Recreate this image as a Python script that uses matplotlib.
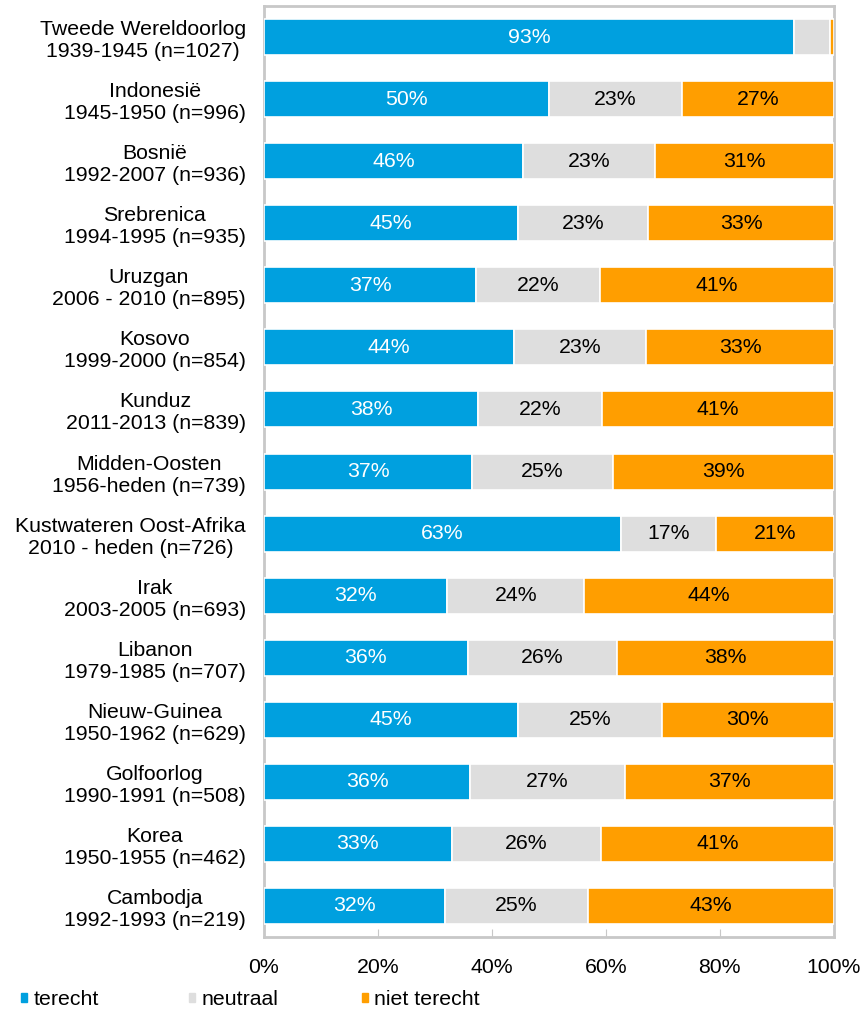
import matplotlib
matplotlib.use("Agg")
import matplotlib.pyplot as plt
from matplotlib.patches import Patch
import numpy as np

plt.rcParams["font.family"] = ["Liberation Sans", "DejaVu Sans"]

missions = [
    "Tweede Wereldoorlog\n1939-1945 (n=1027)",
    "Indonesië\n1945-1950 (n=996)",
    "Bosnië\n1992-2007 (n=936)",
    "Srebrenica\n1994-1995 (n=935)",
    "Uruzgan\n2006 - 2010 (n=895)",
    "Kosovo\n1999-2000 (n=854)",
    "Kunduz\n2011-2013 (n=839)",
    "Midden-Oosten\n1956-heden (n=739)",
    "Kustwateren Oost-Afrika\n2010 - heden (n=726)",
    "Irak\n2003-2005 (n=693)",
    "Libanon\n1979-1985 (n=707)",
    "Nieuw-Guinea\n1950-1962 (n=629)",
    "Golfoorlog\n1990-1991 (n=508)",
    "Korea\n1950-1955 (n=462)",
    "Cambodja\n1992-1993 (n=219)",
]
terecht = [93.0, 50.1, 45.5, 44.6, 37.3, 43.8, 37.6, 36.6, 62.6, 32.2, 35.8, 44.6, 36.2, 33.0, 31.8]
neutraal = [6.3, 23.2, 23.2, 22.8, 21.7, 23.3, 21.8, 24.6, 16.8, 24.0, 26.2, 25.2, 27.1, 26.2, 25.1]
niet_terecht = [0.7, 26.7, 31.3, 32.6, 41.0, 32.9, 40.6, 38.8, 20.6, 43.8, 38.0, 30.2, 36.7, 40.8, 43.1]

series = [
    ("terecht", terecht, "#00A0DF", "white"),
    ("neutraal", neutraal, "#DEDEDE", "black"),
    ("niet terecht", niet_terecht, "#FF9E00", "black"),
]

FS = 15.3

fig = plt.figure(figsize=(8.65, 10.1), dpi=100)
ax = fig.add_axes([0.305, 0.0723, 0.659, 0.9217])

y = np.arange(len(missions))
left = np.zeros(len(missions))
for name, vals, color, tcolor in series:
    vals = np.array(vals)
    bars = ax.barh(y, vals, left=left, height=0.58, color=color,
                   edgecolor="white", linewidth=1.2, label=name, zorder=3)
    for rect, v in zip(bars, vals):
        if v >= 10:
            ax.text(rect.get_x() + rect.get_width() / 2, rect.get_y() + rect.get_height() / 2,
                    f"{v:.0f}%", ha="center", va="center", color=tcolor, fontsize=FS, zorder=4)
    left += vals

ax.set_xlim(0, 100)
ax.set_ylim(len(missions) - 0.5, -0.5)
ax.set_yticks(y)
ax.set_yticklabels(missions, fontsize=FS, ha="right", multialignment="center")
ax.set_xticks(np.arange(0, 101, 20))
ax.set_xticklabels([f"{t}%" for t in range(0, 101, 20)], fontsize=FS)
ax.tick_params(axis="y", length=0, pad=13)
ax.tick_params(axis="x", direction="in", length=6, color="#C8C8C8", pad=15)
for s in ax.spines.values():
    s.set_color("#C8C8C8")
    s.set_linewidth(2)

# legend entries placed individually, spaced like the original
for (name, _, color, _), xpos in zip(series, [0.024, 0.218, 0.418]):
    fig.legend([Patch(color=color)], [name], loc="center left",
               bbox_to_anchor=(xpos, 0.01), frameon=False, fontsize=FS,
               handlelength=0.3, handleheight=0.3, handletextpad=0.3,
               borderaxespad=0, borderpad=0)

fig.savefig("out.png", dpi=100)
